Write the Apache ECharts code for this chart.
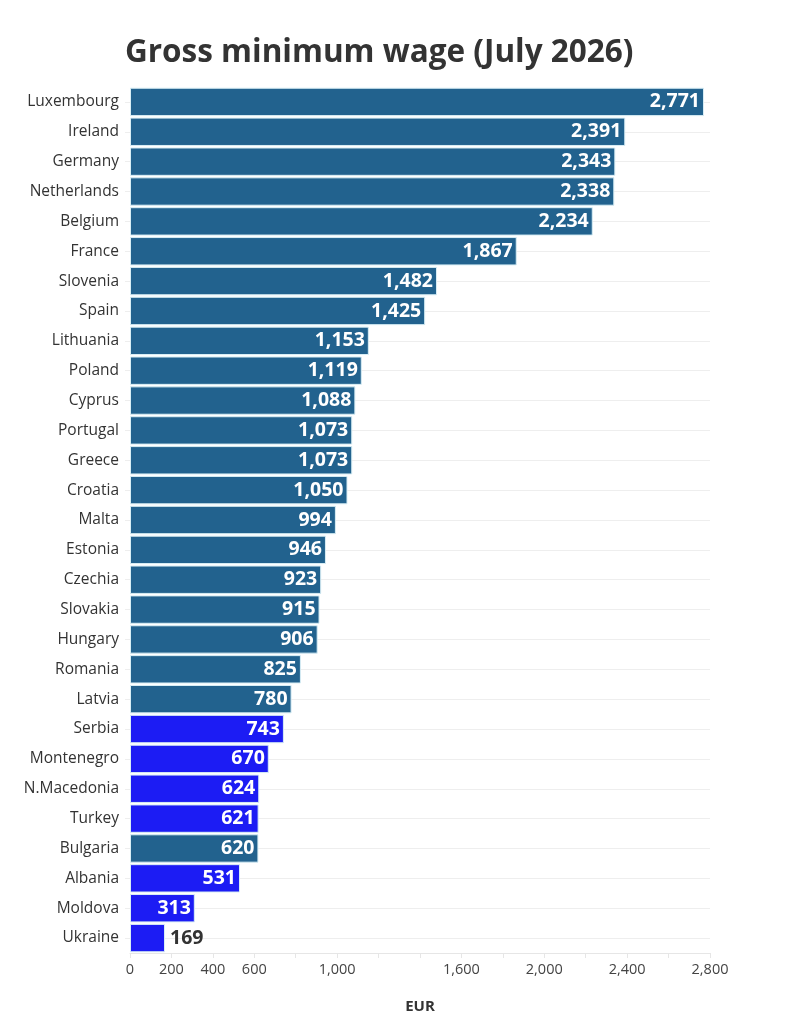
<!DOCTYPE html>
<html>
<head>
    <meta charset="UTF-8">
    <title>Gross minimum wage</title>
    <script src="https://cdn.jsdelivr.net/npm/echarts/dist/echarts.min.js"></script>
</head>
<body style="margin:0;background:#fff;">
    <div id="chart" style="width: 801px;height:1024px;"></div>
    <script type="text/javascript">
        var countries = ['Luxembourg', 'Ireland', 'Germany', 'Netherlands', 'Belgium', 'France', 'Slovenia', 'Spain',
            'Lithuania', 'Poland', 'Cyprus', 'Portugal', 'Greece', 'Croatia', 'Malta', 'Estonia', 'Czechia', 'Slovakia',
            'Hungary', 'Romania', 'Latvia', 'Serbia', 'Montenegro', 'N.Macedonia', 'Turkey', 'Bulgaria', 'Albania',
            'Moldova', 'Ukraine'];
        var wages = [2771, 2391, 2343, 2338, 2234, 1867, 1482, 1425, 1153, 1119, 1088, 1073, 1073, 1050, 994, 946, 923,
            915, 906, 825, 780, 743, 670, 624, 621, 620, 531, 313, 169];
        // countries outside the EU get the bright blue
        var nonEU = ['Serbia', 'Montenegro', 'N.Macedonia', 'Turkey', 'Albania', 'Moldova', 'Ukraine'];
        var shownTicks = [0, 200, 400, 600, 1000, 1600, 2000, 2400, 2800];

        var euColor = '#22628e';
        var nonEUColor = '#1c1cf4';

        function fmt(v) {
            return v.toLocaleString('en-US');
        }

        var myChart = echarts.init(document.getElementById('chart'));

        var barData = wages.map(function (v, i) {
            var item = {
                value: v,
                itemStyle: { color: nonEU.indexOf(countries[i]) >= 0 ? nonEUColor : euColor }
            };
            if (v < 250) {
                // too short for the label inside
                item.label = { position: 'right', color: '#333', distance: 5 };
            }
            return item;
        });

        var option = {
            backgroundColor: '#fff',
            textStyle: { fontFamily: 'Open Sans' },
            title: {
                text: 'Gross minimum wage (July 2026)',
                left: 120,
                top: 32,
                textStyle: { fontSize: 31.5, fontWeight: 'bold', color: '#333', fontFamily: 'Open Sans' }
            },
            grid: { left: 130, right: 91, top: 87, bottom: 71 },
            xAxis: {
                type: 'value',
                min: 0,
                max: 2800,
                interval: 200,
                name: 'EUR',
                nameLocation: 'middle',
                nameGap: 46,
                nameTextStyle: { fontSize: 15, fontWeight: 'bold', color: '#333' },
                axisLine: { show: true, lineStyle: { color: '#e6e6e6' } },
                axisTick: { show: true, length: 5, lineStyle: { color: '#e6e6e6' } },
                splitLine: { show: false },
                axisLabel: {
                    fontSize: 14.5,
                    color: '#444',
                    margin: 9,
                    formatter: function (v) {
                        return shownTicks.indexOf(v) >= 0 ? fmt(v) : '';
                    }
                }
            },
            yAxis: {
                type: 'category',
                data: countries,
                inverse: true,
                axisLine: { show: false },
                axisTick: { show: true, alignWithLabel: true, length: 5, lineStyle: { color: '#eeeeee' } },
                axisLabel: { fontSize: 15.5, color: '#333', margin: 11 }
            },
            series: [
                {
                    // faint guide lines through each row, behind the bars
                    type: 'line',
                    data: [],
                    z: 0,
                    silent: true,
                    markLine: {
                        silent: true,
                        z: 0,
                        symbol: 'none',
                        label: { show: false },
                        lineStyle: { color: '#eeeeee', width: 1, type: 'solid' },
                        data: countries.map(function (c) { return { yAxis: c }; })
                    }
                },
                {
                    type: 'bar',
                    data: barData,
                    z: 10,
                    barCategoryGap: '5%',
                    itemStyle: { borderColor: '#d8eef5', borderWidth: 1 },
                    label: {
                        show: true,
                        position: 'insideRight',
                        distance: 4,
                        color: '#fff',
                        fontSize: 19.5,
                        fontWeight: 'bold',
                        fontFamily: 'Open Sans',
                        formatter: function (p) { return fmt(p.value); }
                    }
                }
            ]
        };

        myChart.setOption(option);
    </script>
</body>
</html>
